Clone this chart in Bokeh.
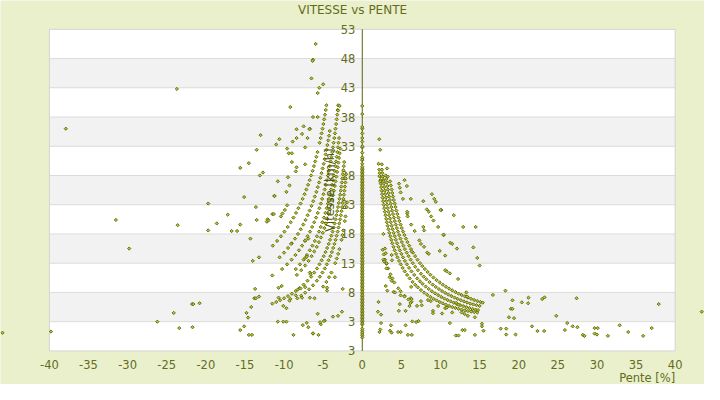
import math
from bokeh.plotting import figure
from bokeh.models import ColumnDataSource, Range1d
from bokeh.core.properties import value
from bokeh.embed import file_html
from bokeh.resources import INLINE

# ---------------- texts / ticks ----------------
title_text = "VITESSE vs PENTE"
x_label = "Pente [%]"
y_label = "Vitesse [km/h]"
x_ticks = [-40, -35, -30, -25, -20, -15, -10, -5, 0, 5, 10, 15, 20, 25, 30, 35, 40]
x_tick_labels = ["-40", "-35", "-30", "-25", "-20", "-15", "-10", "-5", "0", "5",
                 "10", "15", "20", "25", "30", "35", "40"]
y_ticks = [-2, 3, 8, 13, 18, 23, 28, 33, 38, 43, 48, 53]
y_tick_labels = ["3", "3", "8", "13", "18", "23", "28", "33", "38", "43", "48", "53"]

# ---------------- data (pente %, vitesse km/h) ----------------
# speeds recorded at pente = 0 (very dense between 2.5 and 29.5 km/h)
axis_speeds = [0.3, 0.6, 0.9, 1.2, 1.5, 1.8,
               2.5, 2.75, 3.0, 3.25, 3.5, 3.75, 4.0, 4.25, 4.5, 4.75, 5.0, 5.25, 5.5, 5.75,
               6.0, 6.25, 6.5, 6.75, 7.0, 7.25, 7.5, 7.75, 8.0, 8.25, 8.5, 8.75, 9.0, 9.25,
               9.5, 9.75, 10.0, 10.25, 10.5, 10.75, 11.0, 11.25, 11.5, 11.75, 12.0, 12.25,
               12.5, 12.75, 13.0, 13.25, 13.5, 13.75, 14.0, 14.25, 14.5, 14.75, 15.0, 15.25,
               15.5, 15.75, 16.0, 16.25, 16.5, 16.75, 17.0, 17.25, 17.5, 17.75, 18.0, 18.25,
               18.5, 18.75, 19.0, 19.25, 19.5, 19.75, 20.0, 20.25, 20.5, 20.75, 21.0, 21.25,
               21.5, 21.75, 22.0, 22.25, 22.5, 22.75, 23.0, 23.25, 23.5, 23.75, 24.0, 24.25,
               24.5, 24.75, 25.0, 25.25, 25.5, 25.75, 26.0, 26.25, 26.5, 26.75, 27.0, 27.25,
               27.5, 27.75, 28.0, 28.25, 28.5, 28.75, 29.0, 29.25, 29.5,
               30.0, 30.6, 30.8, 31.1, 31.9, 32.8, 33.0, 33.8, 34.4, 35.2, 36.0, 36.3, 38.5, 39.9]

right_chain_1 = [(2.17, 29.0), (2.22, 28.4), (2.27, 27.8), (2.32, 27.2), (2.37, 26.6), (2.42, 26.0),
                 (2.48, 25.4), (2.54, 24.8), (2.60, 24.2), (2.67, 23.6), (2.74, 23.0), (2.81, 22.4),
                 (2.89, 21.8), (2.97, 21.2), (3.06, 20.6), (3.15, 20.0), (3.25, 19.4), (3.35, 18.8),
                 (3.46, 18.2), (3.58, 17.6), (3.71, 17.0), (3.84, 16.4), (3.99, 15.8), (4.14, 15.2),
                 (4.32, 14.6), (4.50, 14.0), (4.70, 13.4), (4.92, 12.8), (5.16, 12.2), (5.43, 11.6),
                 (5.73, 11.0), (6.06, 10.4), (6.43, 9.8), (6.77, 9.3), (7.1, 8.87), (7.5, 8.40),
                 (7.9, 7.97), (8.3, 7.59), (8.7, 7.24), (9.1, 6.92), (9.5, 6.63), (9.9, 6.36),
                 (10.3, 6.12), (10.7, 5.89), (11.1, 5.68), (11.5, 5.50), (11.9, 5.34), (12.3, 5.20),
                 (12.7, 5.05), (13.1, 4.93), (13.5, 4.82), (13.9, 4.72), (14.3, 4.63), (14.7, 4.56)]

right_chain_2 = [(2.52, 29.0), (2.57, 28.4), (2.63, 27.8), (2.68, 27.2), (2.74, 26.6), (2.81, 26.0),
                 (2.87, 25.4), (2.94, 24.8), (3.02, 24.2), (3.09, 23.6), (3.17, 23.0), (3.26, 22.4),
                 (3.35, 21.8), (3.44, 21.2), (3.54, 20.6), (3.65, 20.0), (3.76, 19.4), (3.88, 18.8),
                 (4.01, 18.2), (4.15, 17.6), (4.29, 17.0), (4.45, 16.4), (4.62, 15.8), (4.80, 15.2),
                 (5.00, 14.6), (5.21, 14.0), (5.45, 13.4), (5.70, 12.8), (5.98, 12.2), (6.29, 11.6),
                 (6.64, 11.0), (7.02, 10.4), (7.37, 9.9), (7.7, 9.48), (8.1, 9.01), (8.5, 8.59),
                 (8.9, 8.20), (9.3, 7.85), (9.7, 7.53), (10.1, 7.23), (10.5, 6.95), (10.9, 6.70),
                 (11.3, 6.46), (11.7, 6.24), (12.1, 6.03), (12.5, 5.84), (12.9, 5.66), (13.3, 5.49),
                 (13.7, 5.33), (14.1, 5.18), (14.5, 5.05), (14.8, 4.97)]

right_chain_3 = [(3.00, 28.0), (3.07, 27.4), (3.13, 26.8), (3.21, 26.2), (3.28, 25.6), (3.36, 25.0),
                 (3.44, 24.4), (3.53, 23.8), (3.62, 23.2), (3.72, 22.6), (3.82, 22.0), (3.93, 21.4),
                 (4.04, 20.8), (4.16, 20.2), (4.29, 19.6), (4.42, 19.0), (4.57, 18.4), (4.72, 17.8),
                 (4.88, 17.2), (5.06, 16.6), (5.25, 16.0), (5.45, 15.4), (5.68, 14.8), (5.92, 14.2),
                 (6.18, 13.6), (6.46, 13.0), (6.77, 12.4), (7.12, 11.8), (7.50, 11.2), (7.85, 10.7),
                 (8.2, 10.24), (8.6, 9.77), (9.0, 9.33), (9.4, 8.94), (9.8, 8.57), (10.2, 8.24),
                 (10.6, 7.92), (11.0, 7.64), (11.4, 7.37), (11.8, 7.12), (12.2, 6.89), (12.6, 6.67),
                 (13.0, 6.46), (13.4, 6.27), (13.8, 6.09), (14.2, 5.95), (14.6, 5.82), (15.0, 5.70)]

right_chain_4 = [(3.56, 27.0), (3.65, 26.3), (3.75, 25.6), (3.84, 25.0), (3.93, 24.4), (4.03, 23.8),
                 (4.14, 23.2), (4.25, 22.6), (4.36, 22.0), (4.49, 21.4), (4.62, 20.8), (4.75, 20.2),
                 (4.90, 19.6), (5.05, 19.0), (5.22, 18.4), (5.39, 17.8), (5.58, 17.2), (5.78, 16.6),
                 (6.00, 16.0), (6.23, 15.4), (6.49, 14.8), (6.76, 14.2), (7.06, 13.6), (7.38, 13.0),
                 (7.68, 12.5), (8.00, 12.0), (8.35, 11.5), (8.70, 11.03), (9.10, 10.55), (9.50, 10.11),
                 (9.90, 9.70), (10.3, 9.32), (10.7, 8.97), (11.1, 8.65), (11.5, 8.35), (11.9, 8.07),
                 (12.3, 7.80), (12.7, 7.56), (13.1, 7.33), (13.5, 7.11), (13.9, 6.91), (14.3, 6.71),
                 (14.7, 6.53), (15.1, 6.36), (15.4, 6.25)]

right_chain_5 = [(2.6, 15.3), (2.75, 14.5), (2.9, 13.6), (3.1, 12.9), (3.3, 12.1), (3.6, 11.1),
                 (3.85, 10.4), (4.1, 9.7), (4.6, 8.7), (4.9, 8.2), (5.4, 7.4), (5.9, 6.8),
                 (6.3, 6.4), (7.0, 5.7)]

left_chain_1 = [(-5.0, 9.0), (-4.59, 9.8), (-4.25, 10.6), (-3.95, 11.4), (-3.46, 13.0), (-3.26, 13.8),
                (-3.08, 14.6), (-2.92, 15.4), (-2.65, 17.0), (-2.53, 17.8), (-2.42, 18.6),
                (-2.23, 20.2), (-2.14, 21.0), (-1.99, 22.6), (-1.92, 23.4)]

left_chain_2 = [(-8.3, 6.99), (-7.8, 7.44), (-7.3, 7.95), (-6.8, 8.53), (-6.3, 9.21), (-5.8, 10.0),
                (-5.42, 10.7), (-5.09, 11.4), (-4.79, 12.1), (-4.53, 12.8), (-4.30, 13.5),
                (-4.08, 14.2), (-3.89, 14.9), (-3.72, 15.6), (-3.56, 16.3), (-3.41, 17.0),
                (-3.28, 17.7), (-3.15, 18.4), (-3.04, 19.1), (-2.93, 19.8), (-2.83, 20.5),
                (-2.74, 21.2), (-2.65, 21.9), (-2.57, 22.6), (-2.49, 23.3), (-2.42, 24.0),
                (-2.35, 24.7), (-2.28, 25.4), (-2.22, 26.1), (-2.16, 26.8), (-2.11, 27.5), (-2.06, 28.2)]

left_chain_3 = [(-11.5, 6.09), (-11.0, 6.36), (-10.5, 6.67), (-10.0, 7.0), (-9.5, 7.37), (-9.0, 7.78),
                (-8.5, 8.24), (-8.0, 8.75), (-7.5, 9.33), (-7.0, 10.0), (-6.54, 10.7), (-6.14, 11.4),
                (-5.79, 12.1), (-5.47, 12.8), (-5.19, 13.5), (-4.93, 14.2), (-4.70, 14.9),
                (-4.49, 15.6), (-4.29, 16.3), (-4.12, 17.0), (-3.95, 17.7), (-3.80, 18.4),
                (-3.66, 19.1), (-3.54, 19.8), (-3.41, 20.5), (-3.30, 21.2), (-3.20, 21.9),
                (-3.10, 22.6), (-3.00, 23.3), (-2.92, 24.0), (-2.83, 24.7), (-2.76, 25.4),
                (-2.68, 26.1), (-2.61, 26.8), (-2.55, 27.5), (-2.48, 28.2), (-2.42, 28.9),
                (-2.36, 29.6), (-2.31, 30.3)]

left_chain_4 = [(-8.36, 11.0), (-7.80, 11.8), (-7.30, 12.6), (-6.87, 13.4), (-6.48, 14.2), (-6.13, 15.0),
                (-5.82, 15.8), (-5.54, 16.6), (-5.29, 17.4), (-5.05, 18.2), (-4.84, 19.0),
                (-4.65, 19.8), (-4.47, 20.6), (-4.30, 21.4), (-4.14, 22.2), (-4.00, 23.0),
                (-3.87, 23.8), (-3.74, 24.6), (-3.62, 25.4), (-3.51, 26.2), (-3.41, 27.0),
                (-3.31, 27.8), (-3.22, 28.6), (-3.13, 29.4), (-3.05, 30.2), (-2.97, 31.0),
                (-2.89, 31.8), (-2.82, 32.6)]

left_chain_5 = [(-8.5, 12.0), (-7.97, 12.8), (-7.5, 13.6), (-7.08, 14.4), (-6.71, 15.2), (-6.38, 16.0),
                (-6.07, 16.8), (-5.80, 17.6), (-5.54, 18.4), (-5.31, 19.2), (-5.10, 20.0),
                (-4.90, 20.8), (-4.72, 21.6), (-4.55, 22.4), (-4.40, 23.2), (-4.25, 24.0),
                (-4.11, 24.8), (-3.98, 25.6), (-3.86, 26.4), (-3.75, 27.2), (-3.64, 28.0),
                (-3.54, 28.8), (-3.45, 29.6), (-3.36, 30.4), (-3.27, 31.2), (-3.19, 32.0),
                (-3.11, 32.8), (-3.04, 33.6), (-2.97, 34.4)]

left_chain_6 = [(-10.25, 12.0), (-9.61, 12.8), (-9.04, 13.6), (-8.54, 14.4), (-8.09, 15.2), (-7.69, 16.0),
                (-7.32, 16.8), (-6.99, 17.6), (-6.68, 18.4), (-6.41, 19.2), (-6.15, 20.0),
                (-5.91, 20.8), (-5.69, 21.6), (-5.49, 22.4), (-5.30, 23.2), (-5.13, 24.0),
                (-4.96, 24.8), (-4.80, 25.6), (-4.66, 26.4), (-4.52, 27.2), (-4.39, 28.0),
                (-4.27, 28.8), (-4.16, 29.6), (-4.05, 30.4), (-3.94, 31.2), (-3.84, 32.0),
                (-3.75, 32.8), (-3.66, 33.6), (-3.58, 34.4), (-3.49, 35.2), (-3.42, 36.0),
                (-3.34, 36.8), (-3.27, 37.6), (-3.20, 38.4), (-3.14, 39.2), (-3.08, 40.0)]

left_chain_7 = [(-10.57, 14.0), (-10.0, 14.8), (-9.49, 15.6), (-9.02, 16.4), (-8.60, 17.2), (-8.22, 18.0),
                (-7.87, 18.8), (-7.55, 19.6), (-7.25, 20.4), (-6.98, 21.2), (-6.73, 22.0),
                (-6.49, 22.8), (-6.27, 23.6), (-6.07, 24.4), (-5.87, 25.2), (-5.69, 26.0),
                (-5.52, 26.8), (-5.36, 27.6), (-5.21, 28.4), (-5.07, 29.2), (-4.93, 30.0),
                (-4.81, 30.8), (-4.68, 31.6), (-4.57, 32.4), (-4.46, 33.2), (-4.35, 34.0),
                (-4.25, 34.8), (-4.16, 35.6)]

left_chain_8 = [(-11.44, 16.0), (-10.89, 16.8), (-10.40, 17.6), (-9.95, 18.4), (-9.53, 19.2), (-9.15, 20.0),
                (-8.80, 20.8), (-8.47, 21.6), (-8.17, 22.4), (-7.89, 23.2), (-7.63, 24.0),
                (-7.38, 24.8), (-7.15, 25.6), (-6.93, 26.4), (-6.73, 27.2), (-6.54, 28.0),
                (-6.35, 28.8), (-6.18, 29.6), (-6.02, 30.4), (-5.87, 31.2), (-5.72, 32.0),
                (-5.45, 33.6), (-5.32, 34.4), (-5.20, 35.2), (-5.08, 36.0), (-4.97, 36.8),
                (-4.87, 37.6), (-4.77, 38.4), (-4.67, 39.2), (-4.58, 40.0)]

left_scatter = [(-5.96, 50.5), (-6.3, 47.8), (-6.35, 47.6), (-6.5, 44.6), (-5.0, 43.6), (-5.5, 43.0),
                (-5.7, 42.1), (-23.7, 42.8), (-37.9, 36.0), (-9.2, 39.7), (-6.3, 38.0), (-5.7, 38.0),
                (-2.9, 39.9), (-3.1, 39.1), (-7.5, 36.4), (-6.7, 36.0), (-6.75, 35.9), (-8.4, 35.9),
                (-7.7, 35.1), (-13.0, 34.9), (-10.6, 34.2), (-11.0, 33.3), (-8.9, 33.8), (-8.4, 34.4),
                (-7.0, 34.4), (-9.6, 32.6), (-9.4, 31.8), (-9.0, 31.8), (-7.3, 32.8), (-13.5, 32.4),
                (-14.5, 30.1), (-15.6, 29.3), (-7.3, 29.9), (-9.0, 30.3), (-8.4, 29.4), (-8.5, 28.7),
                (-13.1, 28.0), (-12.7, 28.5), (-10.8, 27.0), (-9.5, 27.7), (-9.3, 26.3), (-11.25, 24.5),
                (-9.7, 25.2), (-15.1, 24.3), (-13.6, 22.6), (-17.2, 21.3), (-12.1, 20.5), (-11.5, 21.4),
                (-10.2, 21.5), (-9.9, 22.1), (-10.4, 21.0), (-9.6, 22.9), (-11.2, 24.5), (-11.3, 21.4),
                (-12.2, 20.1), (-12.0, 20.3), (-31.5, 20.4), (-29.8, 15.5), (-23.6, 19.5), (-19.7, 23.2),
                (-19.7, 18.6), (-18.6, 19.8), (-16.7, 18.5), (-16.0, 18.5), (-15.6, 19.6), (-14.3, 17.2),
                (-13.5, 20.4), (-14.0, 13.4), (-13.2, 14.0), (-13.7, 8.6), (-13.8, 7.0), (-13.6, 7.0),
                (-13.2, 7.3), (-14.2, 5.5), (-14.8, 4.5), (-14.6, 3.7), (-15.1, 2.2), (-15.6, 1.56),
                (-14.5, 0.74), (-14.1, 0.74), (-11.5, 10.9), (-9.1, 16.3), (-10.7, 8.8), (-10.3, 9.1),
                (-10.7, 7.1), (-10.8, 3.0), (-10.1, 3.0), (-9.7, 3.0), (-10.1, 5.7), (-9.7, 5.3),
                (-9.2, 6.9), (-9.3, 6.6), (-8.8, 0.74), (-8.5, 7.5), (-8.25, 8.5), (-7.6, 2.4),
                (-7.1, 2.8), (-6.9, 2.05), (-7.7, 7.1), (-6.7, 7.1), (-6.1, 7.0), (-6.3, 0.96),
                (-5.6, 0.74), (-5.7, 4.35), (-5.3, 2.55), (-4.8, 3.2), (-4.5, 8.3), (-3.75, 3.86),
                (-3.1, 4.0), (-2.6, 4.7), (-2.5, 8.6), (-3.5, 10.6), (-7.3, 13.9), (-7.1, 14.1),
                (-6.7, 11.4), (-6.6, 11.1), (-7.3, 16.9), (-6.9, 17.2), (-7.9, 8.67), (-7.3, 8.9),
                (-26.2, 3.0), (-24.1, 4.5), (-23.4, 1.9), (-21.75, 6.0), (-21.6, 6.0), (-21.7, 2.05),
                (-20.8, 6.15), (-39.8, 1.3), (-46.0, 1.1), (-5.4, 2.9), (-6.3, 1.0), (-4.9, 3.1),
                (-4.5, 8.8)]

right_scatter = [(2.08, 6.37), (2.0, 4.7), (2.4, 4.2), (2.4, 2.76), (2.3, 1.66), (2.2, 1.23), (3.67, 2.38),
                 (3.54, 1.45), (3.75, 1.12), (4.58, 1.23), (4.92, 1.23), (5.54, 2.38), (5.83, 0.74),
                 (6.33, 0.74), (6.4, 3.04), (6.9, 2.93), (7.2, 3.1), (4.8, 6.0), (4.67, 4.85),
                 (5.54, 4.85), (6.04, 5.67), (6.17, 6.2), (9.04, 4.85), (9.04, 4.45), (10.2, 4.4),
                 (11.2, 2.76), (11.96, 0.63), (12.3, 0.63), (12.8, 1.56), (13.1, 1.56), (14.4, 0.74),
                 (15.3, 2.65), (15.3, 2.2), (15.5, 1.45), (16.7, 7.57), (17.7, 1.8), (18.4, 1.8),
                 (18.3, 8.3), (18.4, 0.8), (19.2, 6.65), (19.0, 5.2), (19.2, 5.2), (18.75, 3.75),
                 (19.4, 3.6), (19.6, 0.8), (20.4, 6.3), (21.25, 7.1), (21.2, 6.15), (21.7, 2.2),
                 (22.4, 1.4), (23.0, 6.87), (23.3, 7.15), (23.25, 1.4), (24.8, 4.0), (25.9, 1.56),
                 (26.2, 2.76), (26.9, 2.2), (27.4, 7.0), (27.5, 2.05), (28.2, 0.74), (28.4, 0.57),
                 (29.7, 1.9), (30.1, 1.9), (29.7, 0.96), (30.0, 0.8), (31.4, 0.57), (32.9, 2.38),
                 (34.0, 1.23), (35.9, 0.57), (37.0, 1.9), (37.9, 6.0), (43.4, 4.7),
                 (5.2, 24.0), (6.2, 24.0), (7.8, 23.6), (5.75, 21.5), (5.8, 21.0), (6.25, 19.6),
                 (7.8, 19.2), (7.9, 18.6), (9.7, 19.2), (10.1, 22.1), (11.7, 21.2), (10.4, 17.8),
                 (7.3, 16.9), (7.5, 16.3), (7.9, 15.8), (8.3, 14.8), (8.5, 14.6), (9.9, 15.1),
                 (10.6, 14.3), (11.25, 16.5), (11.5, 16.3), (12.1, 15.5), (12.9, 19.2), (14.5, 19.2),
                 (14.2, 15.7), (14.7, 13.9), (15.0, 12.6), (10.6, 11.8), (10.8, 11.6), (11.2, 11.25),
                 (12.25, 10.3), (13.3, 8.0), (6.25, 8.95), (6.3, 15.0), (2.7, 18.0), (2.9, 15.5),
                 (3.0, 14.7), (2.7, 13.6), (2.8, 13.3), (3.1, 13.0), (3.1, 12.1), (3.0, 9.1),
                 (3.2, 8.3), (3.75, 14.4), (3.8, 13.5), (3.5, 10.6), (3.75, 10.0), (4.0, 8.1),
                 (4.2, 8.0), (4.9, 7.5), (5.4, 7.3), (6.2, 7.0), (6.3, 6.87), (7.5, 6.5), (7.6, 5.8),
                 (8.4, 6.7), (8.75, 6.5), (9.7, 5.67), (10.6, 5.3), (10.8, 5.4), (11.5, 4.57),
                 (12.0, 6.2), (12.3, 5.9), (12.7, 4.57), (13.1, 4.3), (13.5, 4.0), (14.4, 3.75),
                 (13.4, 7.3), (2.17, 34.2), (2.29, 32.4), (2.08, 30.0), (2.5, 29.9), (3.17, 29.2),
                 (2.2, 27.9), (2.6, 27.8), (3.25, 27.8), (2.3, 27.0), (2.7, 27.0), (4.7, 26.6),
                 (4.8, 25.9), (4.9, 25.1), (5.4, 27.2), (5.7, 26.2), (8.9, 24.8), (9.2, 24.0),
                 (9.4, 23.5), (10.0, 22.1), (8.25, 22.2), (8.5, 21.8), (8.8, 21.0), (9.1, 20.3),
                 (10.4, 17.9), (6.7, 18.5), (5.75, 21.8)]

# ---------------- style / layout ----------------
BG = "#eaf0cc"
BAND_GRAY = "#f2f2f2"
GRID = "#dcdcdc"
OLIVE = "#5c650f"
MARK_FILL = "#b7c42a"
TEXT = "#646c1c"
FONT = value("DejaVu Sans")
FS = value("11.5px")

W, H = 704, 384
kx, ky = W / 720.0, H / 400.0          # the chart is laid out on a 720x400 design grid
plot_left, plot_right = 50 * kx, 690 * kx
plot_top, plot_bottom = 30 * ky, 365 * ky

x0, x1 = x_ticks[0], x_ticks[-1]
y0, y1 = y_ticks[0], y_ticks[-1]
sx = (plot_right - plot_left) / (x1 - x0)
sy = (plot_bottom - plot_top) / (y1 - y0)
x_start = x0 - plot_left / sx
x_end = x1 + (W - plot_right) / sx
y_start = y0 - (H - plot_bottom) / sy
y_end = y1 + plot_top / sy

p = figure(width=W, height=H, x_range=Range1d(x_start, x_end), y_range=Range1d(y_start, y_end),
           x_axis_type=None, y_axis_type=None, output_backend="svg", toolbar_location=None,
           min_border=0, min_border_left=0, min_border_right=0, min_border_top=0, min_border_bottom=0,
           background_fill_color=BG, border_fill_color=BG, outline_line_color=None)
p.grid.visible = False

# plot area bands
band_bottom = y_ticks[:-1]
band_top = y_ticks[1:]
band_color = ["white" if i % 2 == 0 else BAND_GRAY for i in range(len(band_bottom))]
p.quad(left=x0, right=x1, bottom=band_bottom, top=band_top, fill_color=band_color, line_color=None)
inner = y_ticks[1:-1]
p.segment(x0=[x0] * len(inner), x1=[x1] * len(inner), y0=inner, y1=inner, line_color=GRID, line_width=1)
p.quad(left=[x0], right=[x1], bottom=[y0], top=[y1], fill_color=None, line_color="#d4d4d4", line_width=1)

# vertical axis at pente 0
p.segment(x0=[0], x1=[0], y0=[y0], y1=[y1], line_color=OLIVE, line_width=1)

# tick labels
p.text(x=[0] * len(y_ticks), y=y_ticks, text=y_tick_labels, x_offset=-7,
       text_align="right", text_baseline="middle", text_font=FONT,
       text_font_size=FS, text_color=TEXT)
p.text(x=x_ticks, y=[y0] * len(x_ticks), text=x_tick_labels, y_offset=13.5,
       text_align="center", text_baseline="middle", text_font=FONT,
       text_font_size=FS, text_color=TEXT)
p.text(x=[x1], y=[y0], text=[x_label], y_offset=27.5, text_align="right",
       text_baseline="middle", text_font=FONT, text_font_size=FS, text_color=TEXT)

# points
groups = [right_chain_1, right_chain_2, right_chain_3, right_chain_4, right_chain_5,
          left_chain_1, left_chain_2, left_chain_3, left_chain_4, left_chain_5,
          left_chain_6, left_chain_7, left_chain_8, left_scatter, right_scatter]
pente = [0.0] * len(axis_speeds)
vitesse = list(axis_speeds)
for g in groups:
    pente += [a for a, b in g]
    vitesse += [b for a, b in g]
src = ColumnDataSource(data=dict(pente=pente, vitesse=vitesse))
p.scatter(x="pente", y="vitesse", source=src, marker="square", angle=math.pi / 4, size=2.3,
          line_color=OLIVE, fill_color=MARK_FILL, line_width=0.9)

# vertical axis title, just left of the pente-0 axis (32 px), drawn over the points
label_gap_px = 32
p.text(x=[0 - label_gap_px / sx], y=[(y0 + y1) / 2], text=[y_label], angle=math.pi / 2,
       text_align="center", text_baseline="middle", text_font=FONT,
       text_font_size=FS, text_color="#4e560c")

# chart title
p.text(x=[(x_start + x_end) / 2], y=[y1], text=[title_text], y_offset=-19,
       text_align="center", text_baseline="middle", text_font=FONT,
       text_font_size=value("12px"), text_color=TEXT)

open("out.html", "w").write(file_html(p, INLINE))
